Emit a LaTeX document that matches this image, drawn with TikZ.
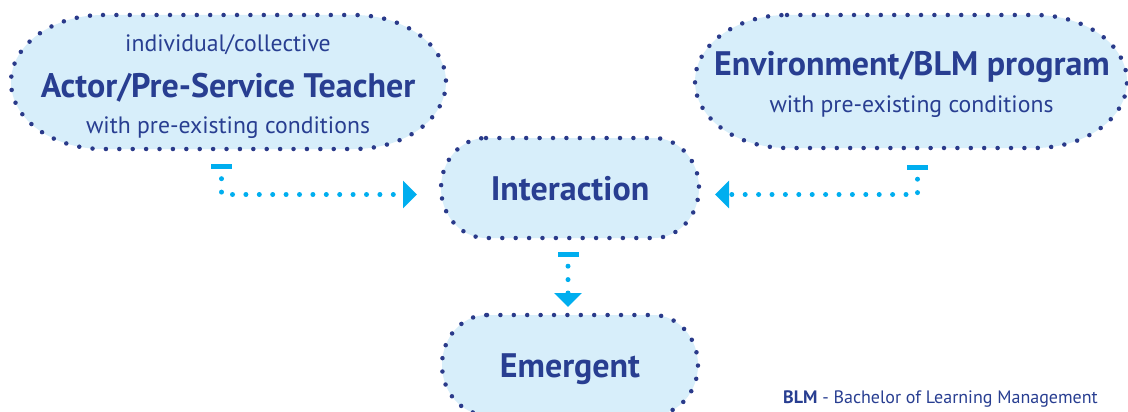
\documentclass[tikz,border=0pt]{standalone}
\usepackage{fontspec}
\setmainfont{PT Sans}
\usetikzlibrary{arrows.meta,backgrounds}

\definecolor{inkblue}{HTML}{283E91}
\definecolor{dotblue}{HTML}{2A3A8A}
\definecolor{paleblue}{HTML}{D7EEFA}
\definecolor{linkcyan}{HTML}{00AEEF}

% outline of a box node: straight edges with elliptic corners
\newcommand\pillpath[3]{%
  \path[pill] ([xshift=#2]#1.north west) -- ([xshift=-#2]#1.north east)
    arc[start angle=90,end angle=0,x radius=#2,y radius=#3]
    -- ([yshift=#3]#1.south east)
    arc[start angle=0,end angle=-90,x radius=#2,y radius=#3]
    -- ([xshift=#2]#1.south west)
    arc[start angle=270,end angle=180,x radius=#2,y radius=#3]
    -- ([yshift=-#3]#1.north west)
    arc[start angle=180,end angle=90,x radius=#2,y radius=#3] -- cycle;}

\tikzset{
  boxnode/.style={rectangle,inner sep=0pt,outer sep=0pt},
  pill/.style={fill=paleblue,draw=dotblue,line width=4.5pt,line cap=round,
    dash pattern=on 0pt off 13.4pt},
  title/.style={anchor=base,inner sep=0pt,text=inkblue,font=\bfseries\fontsize{34}{36}\selectfont},
  subtitle/.style={anchor=base,inner sep=0pt,text=inkblue,font=\fontsize{23.7}{26}\selectfont},
  linkbar/.style={rectangle,fill=linkcyan,inner sep=0pt,minimum width=21pt,minimum height=5pt},
  link/.style={draw=linkcyan,line width=5pt,line cap=round,dash pattern=on 0pt off 13.4pt,
    -{Triangle[length=14pt,width=27pt]}},
}

\begin{document}
\begin{tikzpicture}[x=1pt,y=1pt]
\useasboundingbox (0,0) rectangle (1128,-412);

% boxes
\node[boxnode,minimum width=435pt,minimum height=134pt] (actor) at (228.5,-82) {};
\node[boxnode,minimum width=432pt,minimum height=133pt] (env) at (911,-81.5) {};
\node[boxnode,minimum width=258pt,minimum height=100pt] (inter) at (570,-188) {};
\node[boxnode,minimum width=256pt,minimum height=100pt] (emer) at (570,-365) {};

\begin{scope}[on background layer]
  \pillpath{actor}{92pt}{67pt}
  \pillpath{env}{92pt}{66.5pt}
  \pillpath{inter}{45pt}{50pt}
  \pillpath{emer}{45pt}{50pt}
\end{scope}

% texts
\node[subtitle] (actorA) at (228,-52) {individual/collective};
\node[title]    (actorB) at (228,-97) {Actor/Pre-Service Teacher};
\node[subtitle] (actorC) at (228,-133) {with pre-existing conditions};
\node[title]    (envA)   at (912,-76) {Environment/BLM program};
\node[subtitle] (envB)   at (911.5,-113) {with pre-existing conditions};
\node[title]    (interT) at (570,-200) {Interaction};
\node[title]    (emerT)  at (570,-377) {Emergent};

% connectors
\node[linkbar] (barL) at (221.5,-166.5) {};
\node[linkbar] (barR) at (917.5,-167) {};
\node[linkbar] (barD) at (568,-254) {};

\draw[link,shorten <=9.5pt,shorten >=24pt] (barL.south) |- ([yshift=-6.5pt]inter.west);
\draw[link,shorten <=9.5pt,shorten >=16pt] (barR.south) |- ([yshift=-6.5pt]inter.east);
\draw[link,shorten <=9.5pt,shorten >=8pt] (barD.south) -- (barD.south |- emer.north);

% legend
\node[anchor=base west,inner sep=0pt,text=inkblue,font=\fontsize{18}{20}\selectfont] (legend)
  at (783,-403) {\textbf{BLM} - Bachelor of Learning Management};
\end{tikzpicture}
\end{document}
